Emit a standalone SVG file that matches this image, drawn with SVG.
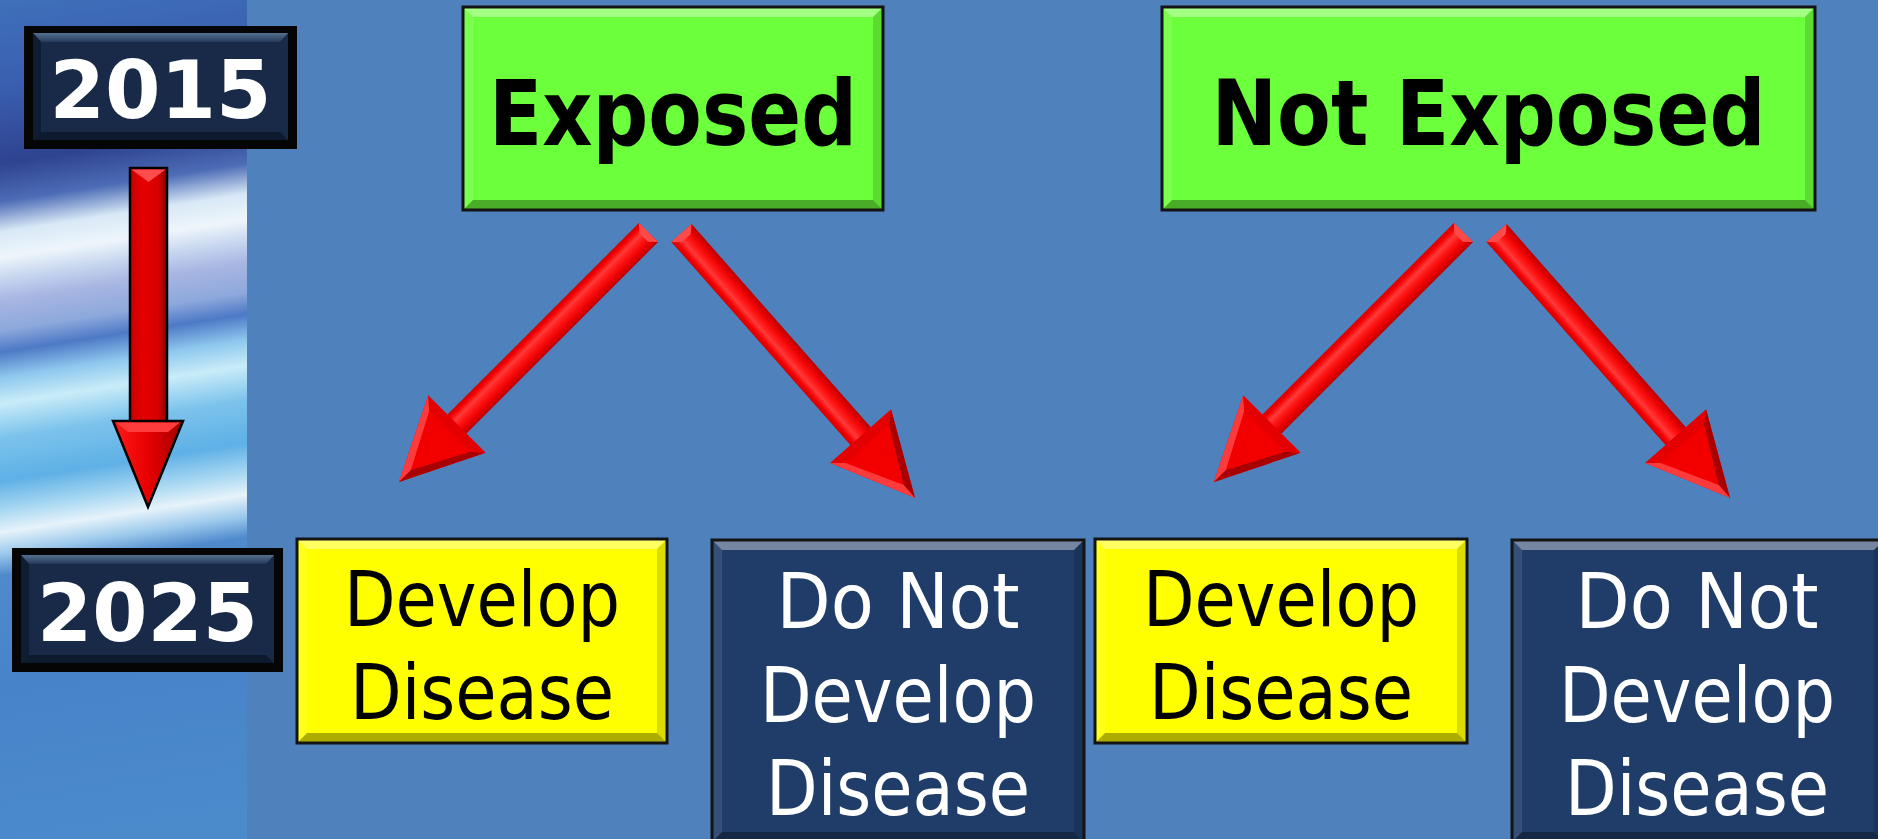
<svg xmlns="http://www.w3.org/2000/svg" width="1878" height="839" viewBox="0 0 1878 839">
<defs>
<style>
.yr{font-family:"DejaVu Sans","Liberation Sans",sans-serif;font-weight:bold;font-size:80px;fill:#ffffff;text-anchor:middle}
.hd{font-family:"DejaVu Sans","Liberation Sans",sans-serif;font-weight:bold;font-size:90px;fill:#000000;text-anchor:middle}
.bd{font-family:"DejaVu Sans","Liberation Sans",sans-serif;font-size:77px;text-anchor:middle}
.dk{fill:#000000}
.lt{fill:#ffffff}
.green{fill:#6cff3b}
.yellow{fill:#ffff00}
.navy{fill:#1f3d68}
.bt{fill:#ffffff;fill-opacity:0.38}
.bl{fill:#ffffff;fill-opacity:0.1}
.br{fill:#000000;fill-opacity:0.14}
.bb{fill:#000000;fill-opacity:0.32}
.edge{fill:none;stroke:#141414;stroke-width:3}
</style>
<linearGradient id="stripG" gradientUnits="userSpaceOnUse" x1="0" y1="0" x2="130" y2="839">
<stop offset="0" stop-color="#3f70ba"/>
<stop offset="0.10" stop-color="#3a5fb0"/>
<stop offset="0.19" stop-color="#2f4390"/>
<stop offset="0.235" stop-color="#4c6cb6"/>
<stop offset="0.27" stop-color="#d8e8f6"/>
<stop offset="0.30" stop-color="#eef6fb"/>
<stop offset="0.325" stop-color="#c7d6ef"/>
<stop offset="0.35" stop-color="#a8b6e2"/>
<stop offset="0.385" stop-color="#8da8dc"/>
<stop offset="0.41" stop-color="#4d79c6"/>
<stop offset="0.44" stop-color="#8ec8ee"/>
<stop offset="0.47" stop-color="#c9ecf8"/>
<stop offset="0.51" stop-color="#7cc3ec"/>
<stop offset="0.56" stop-color="#5eb0e6"/>
<stop offset="0.595" stop-color="#a9d8f2"/>
<stop offset="0.62" stop-color="#e6f3fa"/>
<stop offset="0.645" stop-color="#9cc9ec"/>
<stop offset="0.67" stop-color="#4f8acd"/>
<stop offset="0.8" stop-color="#4783c9"/>
<stop offset="1" stop-color="#4b8bcc"/>
</linearGradient>
<linearGradient id="yrTop" x1="0" y1="0" x2="0" y2="1">
<stop offset="0" stop-color="#55708f"/>
<stop offset="1" stop-color="#25395a"/>
</linearGradient>
<linearGradient id="shaftG" x1="0" y1="0" x2="0" y2="1">
<stop offset="0" stop-color="#b80000"/>
<stop offset="0.2" stop-color="#e80000"/>
<stop offset="0.45" stop-color="#ff1616"/>
<stop offset="0.65" stop-color="#ff3a3a"/>
<stop offset="0.85" stop-color="#f40000"/>
<stop offset="1" stop-color="#d40000"/>
</linearGradient>
<linearGradient id="vShaft" x1="0" y1="0" x2="1" y2="0">
<stop offset="0" stop-color="#c80000"/>
<stop offset="0.35" stop-color="#e60000"/>
<stop offset="0.75" stop-color="#d80000"/>
<stop offset="1" stop-color="#8c0000"/>
</linearGradient>
<linearGradient id="vHead" x1="0" y1="0" x2="1" y2="0">
<stop offset="0" stop-color="#ff1a1a"/>
<stop offset="0.5" stop-color="#e80000"/>
<stop offset="1" stop-color="#a00000"/>
</linearGradient>
<g id="arrow">
<rect x="0" y="-13.5" width="273" height="27" fill="url(#shaftG)"/>
<polygon points="0,-13.5 7,-6 7,6 0,13.5" fill="#ff4a4a"/>
<polygon points="271,-40.5 353,0 271,40.5" fill="#f20000"/>
<polygon points="271,-40.5 353,0 336,0 281,-29" fill="#a80000"/>
<polygon points="271,40.5 353,0 336,0 281,29" fill="#ff3a3a"/>
<polygon points="271,-40.5 281,-29 281,29 271,40.5" fill="#e40000"/>
</g>
<clipPath id="stripClip"><rect x="0" y="0" width="247" height="839"/></clipPath>
</defs>

<rect x="0" y="0" width="1878" height="839" fill="#4f81bd"/>

<g id="timeline-strip" clip-path="url(#stripClip)">
<rect x="0" y="0" width="247" height="839" fill="url(#stripG)"/>
</g>

<g id="connectors">
<g id="time-arrow">
<rect x="130" y="168" width="37" height="254" fill="url(#vShaft)" stroke="#000" stroke-width="2.5"/>
<polygon points="131.5,169.5 165.5,169.5 148.5,182" fill="#ff4d4d"/>
<polygon points="113,421 183,421 148,507" fill="url(#vHead)" stroke="#000" stroke-width="2.5" stroke-linejoin="miter"/>
<polygon points="116,422.5 180,422.5 168,432 128,432" fill="#ff3c3c"/>
</g>
<use href="#arrow" transform="translate(648.5,232.5) rotate(135)"/>
<use href="#arrow" transform="translate(681.5,233) rotate(48.6)"/>
<use href="#arrow" transform="translate(1463.5,232.5) rotate(135)"/>
<use href="#arrow" transform="translate(1496.5,233) rotate(48.6)"/>
</g>

<g id="year-2015">
<rect x="24" y="26" width="273" height="123" fill="#050505"/>
<rect x="33" y="33" width="255" height="107" fill="#182a47"/>
<polygon points="33,33 288,33 280,42 41,42" fill="url(#yrTop)"/>
<polygon points="33,33 41,42 41,132 33,140" fill="#0f1d33"/>
<polygon points="33,140 41,132 280,132 288,140" fill="#0e1a2e"/>
<text class="yr" x="160.5" y="118" textLength="222" lengthAdjust="spacingAndGlyphs">2015</text>
</g>

<g id="year-2025">
<rect x="12" y="548" width="271" height="124" fill="#050505"/>
<rect x="21" y="555" width="253" height="108" fill="#182a47"/>
<polygon points="21,555 274,555 266,564 29,564" fill="url(#yrTop)"/>
<polygon points="21,555 29,564 29,655 21,663" fill="#0f1d33"/>
<polygon points="21,663 29,655 266,655 274,663" fill="#0e1a2e"/>
<text class="yr" x="147.5" y="641" textLength="221" lengthAdjust="spacingAndGlyphs">2025</text>
</g>

<g id="exposed">
<rect class="green" x="463" y="7" width="420" height="203"/>
<polygon class="bt" points="463,7 883,7 873,17 473,17"/>
<polygon class="bb" points="463,210 473,200 873,200 883,210"/>
<polygon class="bl" points="463,7 473,17 473,200 463,210"/>
<polygon class="br" points="883,7 883,210 873,200 873,17"/>
<rect class="edge" x="463" y="7" width="420" height="203"/>
<text class="hd" x="673" y="145" textLength="368" lengthAdjust="spacingAndGlyphs">Exposed</text>
</g>

<g id="not-exposed">
<rect class="green" x="1162" y="7" width="653" height="203"/>
<polygon class="bt" points="1162,7 1815,7 1805,17 1172,17"/>
<polygon class="bb" points="1162,210 1172,200 1805,200 1815,210"/>
<polygon class="bl" points="1162,7 1172,17 1172,200 1162,210"/>
<polygon class="br" points="1815,7 1815,210 1805,200 1805,17"/>
<rect class="edge" x="1162" y="7" width="653" height="203"/>
<text class="hd" x="1488.5" y="145" textLength="554" lengthAdjust="spacingAndGlyphs">Not Exposed</text>
</g>

<g id="exposed-develop">
<rect class="yellow" x="297" y="539" width="370" height="204"/>
<polygon class="bt" points="297,539 667,539 657,549 307,549"/>
<polygon class="bb" points="297,743 307,733 657,733 667,743"/>
<polygon class="bl" points="297,539 307,549 307,733 297,743"/>
<polygon class="br" points="667,539 667,743 657,733 657,549"/>
<rect class="edge" x="297" y="539" width="370" height="204"/>
<text class="bd dk" x="482" y="626" textLength="276" lengthAdjust="spacingAndGlyphs">Develop</text>
<text class="bd dk" x="482" y="719" textLength="264" lengthAdjust="spacingAndGlyphs">Disease</text>
</g>

<g id="exposed-not-develop">
<rect class="navy" x="712" y="540" width="372" height="302"/>
<polygon class="bt" points="712,540 1084,540 1074,550 722,550"/>
<polygon class="bb" points="712,842 722,832 1074,832 1084,842"/>
<polygon class="bl" points="712,540 722,550 722,832 712,842"/>
<polygon class="br" points="1084,540 1084,842 1074,832 1074,550"/>
<rect class="edge" x="712" y="540" width="372" height="302"/>
<text class="bd lt" x="898" y="628" textLength="243" lengthAdjust="spacingAndGlyphs">Do Not</text>
<text class="bd lt" x="898" y="722" textLength="276" lengthAdjust="spacingAndGlyphs">Develop</text>
<text class="bd lt" x="898" y="815" textLength="264" lengthAdjust="spacingAndGlyphs">Disease</text>
</g>

<g id="not-exposed-develop">
<rect class="yellow" x="1095" y="539" width="372" height="204"/>
<polygon class="bt" points="1095,539 1467,539 1457,549 1105,549"/>
<polygon class="bb" points="1095,743 1105,733 1457,733 1467,743"/>
<polygon class="bl" points="1095,539 1105,549 1105,733 1095,743"/>
<polygon class="br" points="1467,539 1467,743 1457,733 1457,549"/>
<rect class="edge" x="1095" y="539" width="372" height="204"/>
<text class="bd dk" x="1281" y="626" textLength="276" lengthAdjust="spacingAndGlyphs">Develop</text>
<text class="bd dk" x="1281" y="719" textLength="264" lengthAdjust="spacingAndGlyphs">Disease</text>
</g>

<g id="not-exposed-not-develop">
<rect class="navy" x="1512" y="540" width="372" height="302"/>
<polygon class="bt" points="1512,540 1884,540 1874,550 1522,550"/>
<polygon class="bb" points="1512,842 1522,832 1874,832 1884,842"/>
<polygon class="bl" points="1512,540 1522,550 1522,832 1512,842"/>
<polygon class="br" points="1884,540 1884,842 1874,832 1874,550"/>
<rect class="edge" x="1512" y="540" width="372" height="302"/>
<text class="bd lt" x="1697" y="628" textLength="243" lengthAdjust="spacingAndGlyphs">Do Not</text>
<text class="bd lt" x="1697" y="722" textLength="276" lengthAdjust="spacingAndGlyphs">Develop</text>
<text class="bd lt" x="1697" y="815" textLength="264" lengthAdjust="spacingAndGlyphs">Disease</text>
</g>
</svg>
